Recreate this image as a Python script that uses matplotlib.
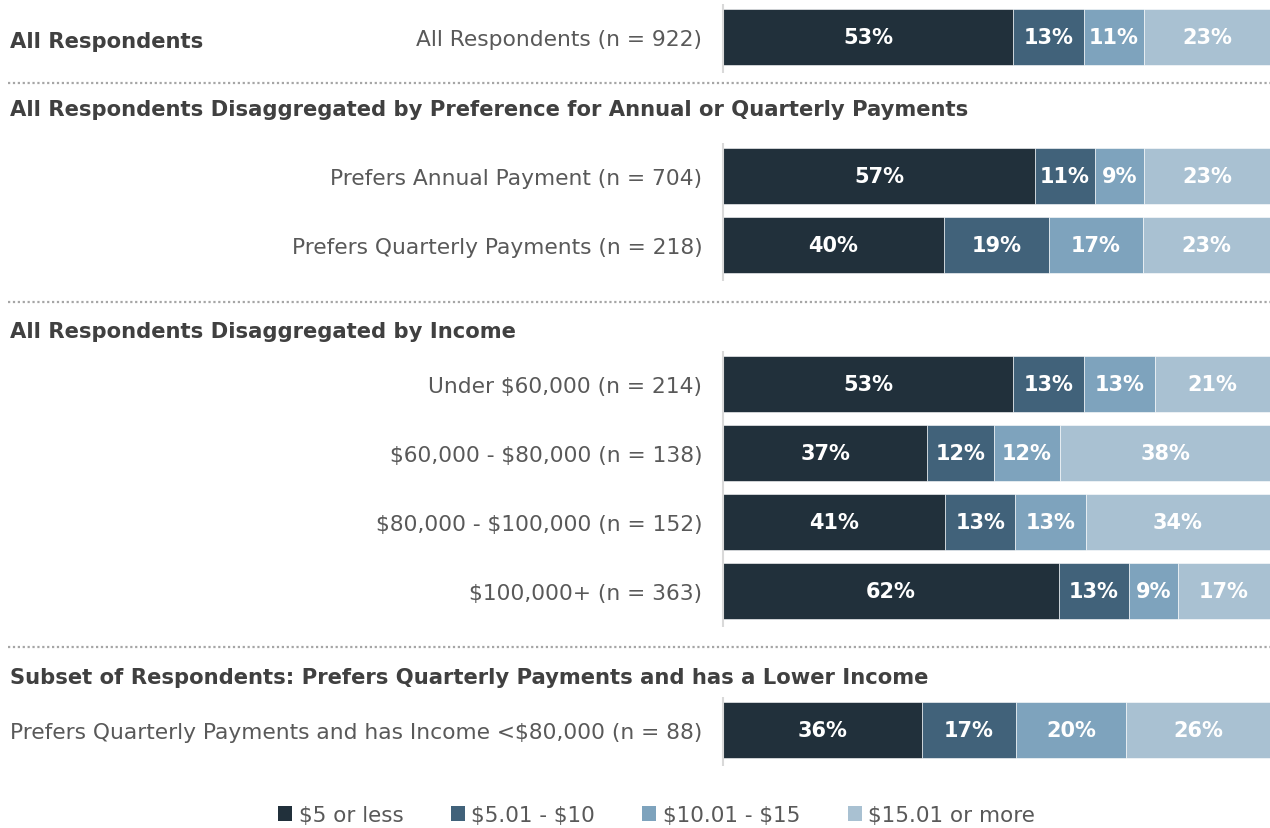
import matplotlib.pyplot as plt
from matplotlib.patches import Patch
from matplotlib.transforms import blended_transform_factory
import numpy as np

plt.rcParams['font.family'] = ['DejaVu Sans']
plt.rcParams['text.parse_math'] = False

# --- data ---
labels = ['All Respondents (n = 922)',
          'Prefers Annual Payment (n = 704)',
          'Prefers Quarterly Payments (n = 218)',
          'Under $60,000 (n = 214)',
          '$60,000 - $80,000 (n = 138)',
          '$80,000 - $100,000 (n = 152)',
          '$100,000+ (n = 363)',
          'Prefers Quarterly Payments and has Income <$80,000 (n = 88)']
le5 = [53, 57, 40, 53, 37, 41, 62, 36]
to10 = [13, 11, 19, 13, 12, 13, 13, 17]
to15 = [11, 9, 17, 13, 12, 13, 9, 20]
over15 = [23, 23, 23, 21, 38, 34, 17, 26]
series_names = ['$5 or less', '$5.01 - $10', '$10.01 - $15', '$15.01 or more']
headers = ['All Respondents',
           'All Respondents Disaggregated by Preference for Annual or Quarterly Payments',
           'All Respondents Disaggregated by Income',
           'Subset of Respondents: Prefers Quarterly Payments and has a Lower Income']
group_sizes = [1, 2, 4, 1]

colors = ['#21303b', '#41627a', '#7ea3bd', '#a9c1d2']
label_col = '#595959'
head_col = '#404040'

# --- layout (pixels) ---
W, H = 1270, 829
pitch, gap, bar_h = 69, 70, 56
ys = []
y = 38
for g, n in enumerate(group_sizes):
    if g > 0:
        y += gap
    for k in range(n):
        ys.append(y)
        y += pitch
ys = np.array(ys, dtype=float)
sep_y = [84, 303, 648]
head_y = [42, 110, 332, 678]

fig = plt.figure(figsize=(W / 100, H / 100), dpi=100)
x0 = 723 / W
ax = fig.add_axes([x0, 0, 1 - x0, 1])
ax.set_xlim(0, 100)
ax.set_ylim(H, 0)

vals = np.array([le5, to10, to15, over15], dtype=float)
shares = vals / vals.sum(axis=0) * 100
left = np.zeros(len(labels))
for i in range(4):
    ax.barh(ys, shares[i], left=left, height=bar_h, color=colors[i],
            edgecolor='white', linewidth=0.4)
    for yy, l, w, v in zip(ys, left, shares[i], vals[i]):
        ax.text(l + w / 2, yy, f'{int(v)}%', ha='center', va='center',
                color='white', fontsize=15, fontweight='bold')
    left += shares[i]

ax.set_yticks(ys)
ax.set_yticklabels(labels, fontsize=15.7, color=label_col)
ax.tick_params(axis='y', length=0, pad=15)
ax.set_xticks([])
for s in ax.spines.values():
    s.set_visible(False)

# axis line segments per group
start = 0
for n in group_sizes:
    g_ys = ys[start:start + n]
    ax.plot([0, 0], [g_ys[0] - bar_h / 2 - 5, g_ys[-1] + bar_h / 2 + 8],
            color='#d9d9d9', lw=1.5, clip_on=False, solid_capstyle='butt')
    start += n

tr = blended_transform_factory(fig.transFigure, ax.transData)
for h, hy in zip(headers, head_y):
    ax.text(10 / W, hy, h, transform=tr, ha='left', va='center',
            fontsize=15.2, fontweight='bold', color=head_col)
for sy in sep_y:
    ax.plot([8 / W, 1], [sy, sy], transform=tr, color='#a6a6a6', lw=1.6,
            ls=(0, (1, 1.2)), clip_on=False)

handles = [Patch(facecolor=c, label=n) for c, n in zip(colors, series_names)]
fig.legend(handles=handles, loc='center', bbox_to_anchor=(0.517, 1 - 816 / H),
           ncol=4, frameon=False, fontsize=15.5, labelcolor=label_col,
           handlelength=0.65, handleheight=0.65, handletextpad=0.3,
           columnspacing=2.2)

fig.savefig('out.png', dpi=100)
